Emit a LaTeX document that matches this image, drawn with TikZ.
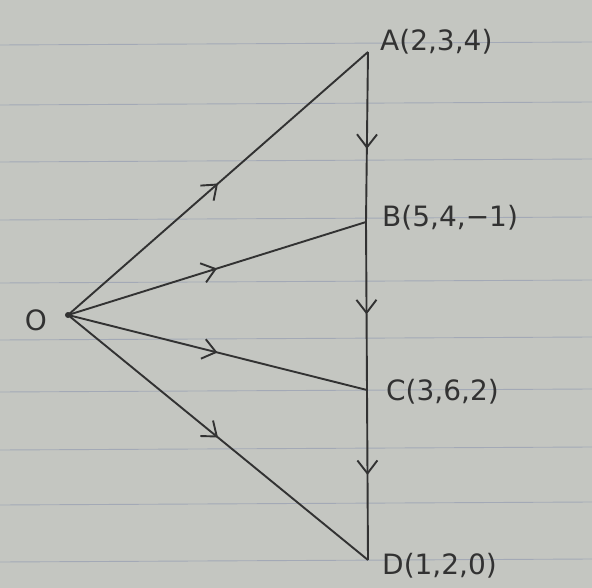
\documentclass[tikz,border=0pt]{standalone}
\usepackage{fontspec}
\setmainfont{DejaVu Sans}
\usetikzlibrary{arrows.meta,decorations.markings}
\definecolor{paper}{RGB}{196,198,193}
\definecolor{rule}{RGB}{150,158,178}
\definecolor{ink}{RGB}{50,50,50}
\tikzset{
  vec/.style={draw=ink,line width=1.9pt,postaction={decorate},
    decoration={markings,mark=at position #1 with {\arrow[ink,line width=1.9pt]{Straight Barb[length=13pt,width=20pt]}}}},
  vec/.default=0.5,
  lbl/.style={font=\fontsize{28}{30}\selectfont,text=ink,inner sep=0pt,anchor=west},
  ruling/.style={draw=rule,line width=0.9pt,opacity=0.7}
}
\begin{document}
\begin{tikzpicture}[x=1pt,y=-1pt]
\fill[paper] (0,0) rectangle (592,588);
\useasboundingbox (0,0) rectangle (592,588);
\foreach \y in {45,105,162,220,283,340,392,450,505,562}
  \draw[ruling] (0,\y) -- (592,\y-3);
\coordinate (O) at (68,315);
\coordinate (A) at (368,52);
\coordinate (B) at (366,222);
\coordinate (C) at (367,390);
\coordinate (D) at (368,560);
\node[font=\fontsize{28}{30}\selectfont,text=ink,inner sep=0pt] (Ol) at (36,320) {O};
\fill[ink] (O) circle (3pt);
\node[lbl] (Al) at (380,42) {A(2,3,4)};
\node[lbl] (Bl) at (382,218) {B(5,4,−1)};
\node[lbl] (Cl) at (386,392) {C(3,6,2)};
\node[lbl] (Dl) at (382,566) {D(1,2,0)};
\draw[vec] (O) -- (A);
\draw[vec] (O) -- (B);
\draw[vec] (O) -- (C);
\draw[vec] (O) -- (D);
\draw[vec=0.57] (A) -- (B);
\draw[vec=0.55] (B) -- (C);
\draw[vec=0.5] (C) -- (D);
\end{tikzpicture}
\end{document}
